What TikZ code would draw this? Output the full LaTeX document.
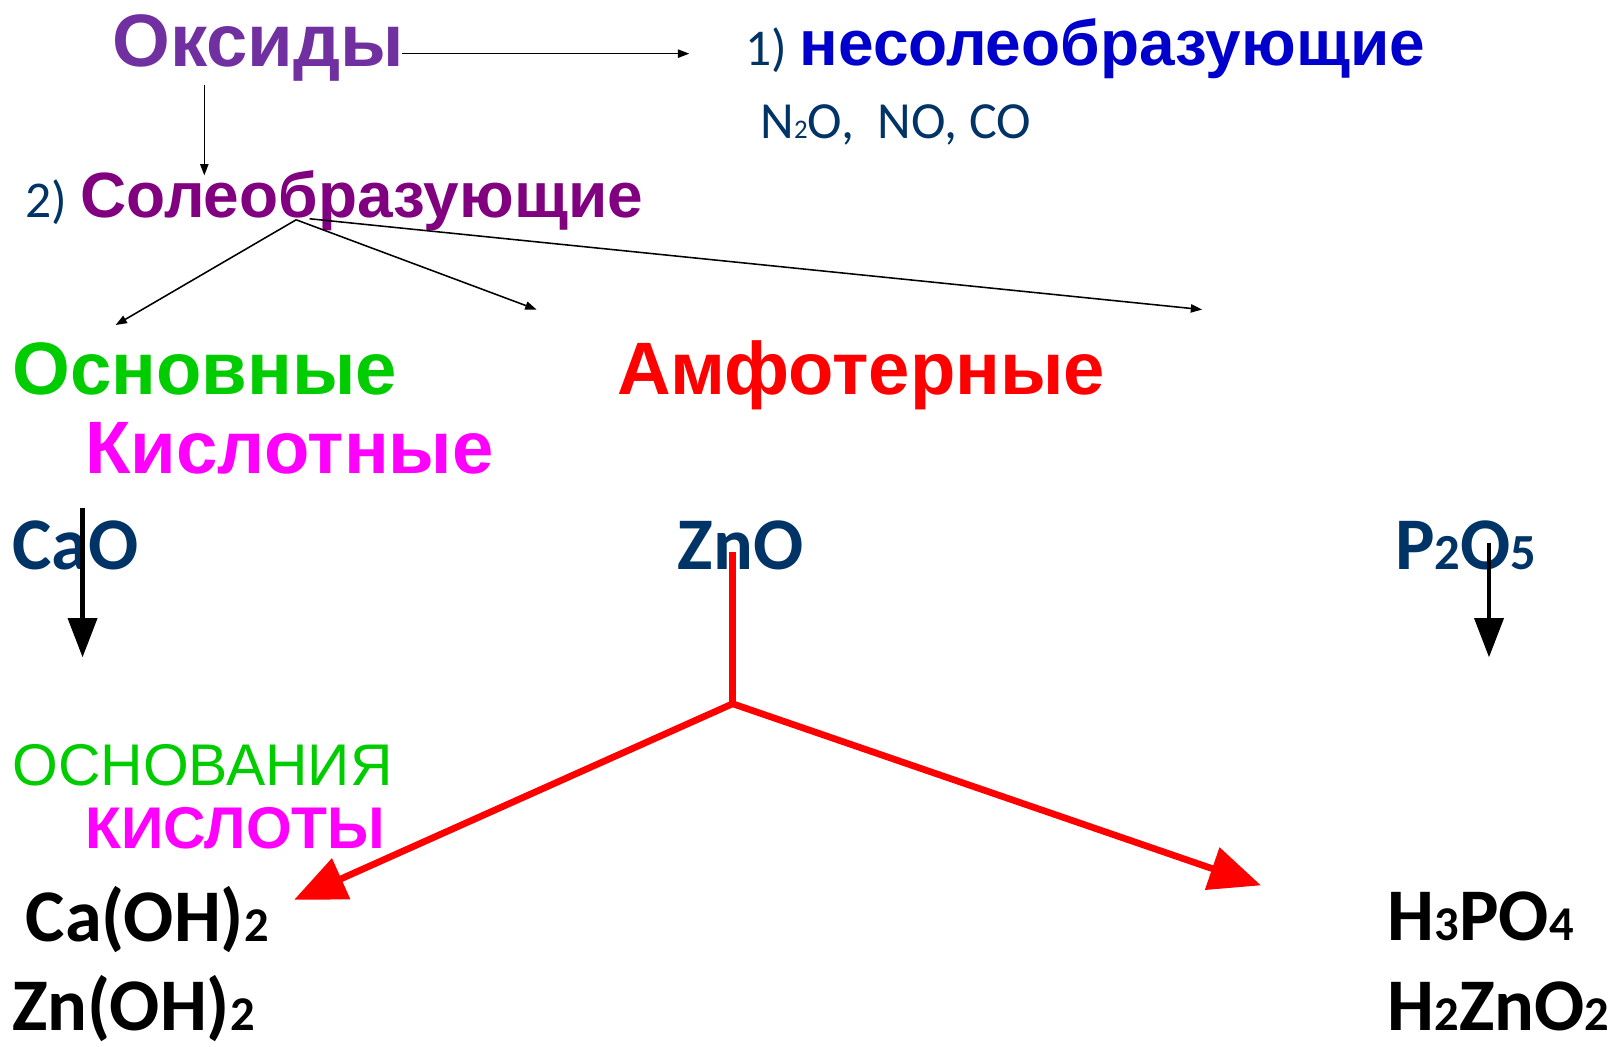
\documentclass[tikz,border=0pt]{standalone}
\usepackage{fontspec}
\setmainfont{Liberation Sans}
\newfontfamily\calibri{Carlito}
\usetikzlibrary{arrows.meta}
\definecolor{oxpurple}{HTML}{7030A0}
\definecolor{nonsalt}{HTML}{0000CC}
\definecolor{saltpurple}{HTML}{800080}
\definecolor{navy}{HTML}{003366}
\definecolor{basegreen}{HTML}{00CC00}
\definecolor{amphred}{HTML}{FF0000}
\definecolor{acidpink}{HTML}{FF00FF}
% smaller digit set on the baseline (formula indices)
\newcommand\idx[2]{{\fontsize{#1}{#1}\selectfont #2}}
\newcommand\fsz[1]{\fontsize{#1}{#1}\selectfont}
\begin{document}
\begin{tikzpicture}[x=1pt,y=-1pt,
  lbl/.style={anchor=base west, inner sep=0pt, outer sep=0pt},
  head/.style={lbl, font=\fsz{72}\bfseries},
  sub/.style={lbl, font=\fsz{62}\bfseries},
  num/.style={lbl, font=\calibri\fsz{50}, text=navy},
  formula/.style={lbl, font=\calibri\fsz{72}\bfseries},
  thinarrow/.style={draw=black, line width=1.5pt, -{Triangle[length=11pt,width=8pt]}},
  thickarrow/.style={draw=black, line width=4pt, -{Triangle[length=38pt,width=28pt]}},
  redline/.style={draw=amphred, line width=6.5pt},
  redarrow/.style={redline, -{Triangle[length=50pt,width=42pt]}}]
\useasboundingbox (0,0) rectangle (1568,1014);

% classification headings
\node[head, text=oxpurple] (oxides) at (109,64.6) {Оксиды};
\node[num] (n1) at (722,63) {1)};
\node[sub, text=nonsalt] (nonsalt) at (775,63) {несолеобразующие};
\node[lbl, font=\calibri\fsz{50.5}, text=navy] (examples) at (737,134)
  {N\idx{26}{2}O,\ \ NO, CO};
\node[num] (n2) at (25,211) {2)};
\node[sub, text=saltpurple] (salt) at (78,211) {Солеобразующие};

\node[head, text=basegreen] (basic) at (12,382) {Основные};
\node[head, text=amphred] (amph) at (598,382) {Амфотерные};
\node[head, text=acidpink] (acidic) at (83,459) {Кислотные};

% oxides
\node[formula, text=navy] (cao) at (12,552) {CaO};
\node[formula, text=navy] (zno) at (657,552) {ZnO};
\node[formula, text=navy] (p2o5) at (1352,552) {P\idx{49}{2}O\idx{49}{5}};

% hydroxides
\node[lbl, font=\fsz{57}, text=basegreen] (bases) at (12,761) {ОСНОВАНИЯ};
\node[lbl, font=\fsz{57}\bfseries, text=acidpink] (acids) at (83,822) {КИСЛОТЫ};
\node[formula] (caoh) at (25,912) {Ca(OH)\idx{47}{2}};
\node[formula] (znoh) at (12,999) {Zn(OH)\idx{47}{2}};
\node[formula] (h3po4) at (1345,911) {H\idx{47}{3}PO\idx{47}{4}};
\node[formula] (h2zno2) at (1345,999) {H\idx{47}{2}ZnO\idx{47}{2}};

% connector end points
\coordinate (oxR) at (390,52);
\coordinate (nonT) at (668,52);
\coordinate (oxB) at (198,82);
\coordinate (saltT) at (198,170);
\coordinate (fork) at (287,213);
\coordinate (fork2) at (300,212);
\coordinate (toBasic) at (112,315);
\coordinate (toAmph) at (520,300);
\coordinate (toAcid) at (1165,300);
\coordinate (caoTop) at (80,492);
\coordinate (caoEnd) at (80,637);
\coordinate (pTop) at (1443,526);
\coordinate (pEnd) at (1443,637);
\coordinate (znTop) at (710,535);
\coordinate (znSplit) at (710,682);
\coordinate (toBase) at (285,872);
\coordinate (toAcidR) at (1222,858);

% black connectors
\draw[thinarrow] (oxR) -- (nonT);
\draw[thinarrow] (oxB) -- (saltT);
\draw[thinarrow] (fork) -- (toBasic);
\draw[thinarrow] (fork) -- (toAmph);
\draw[thinarrow] (fork2) -- (toAcid);
\draw[thickarrow] (caoTop) -- (caoEnd);
\draw[thickarrow] (pTop) -- (pEnd);

% amphoteric split
\draw[redline, line cap=butt] (znTop) -- (znSplit);
\draw[redarrow] (znSplit) -- (toBase);
\draw[redarrow] (znSplit) -- (toAcidR);
\end{tikzpicture}
\end{document}
